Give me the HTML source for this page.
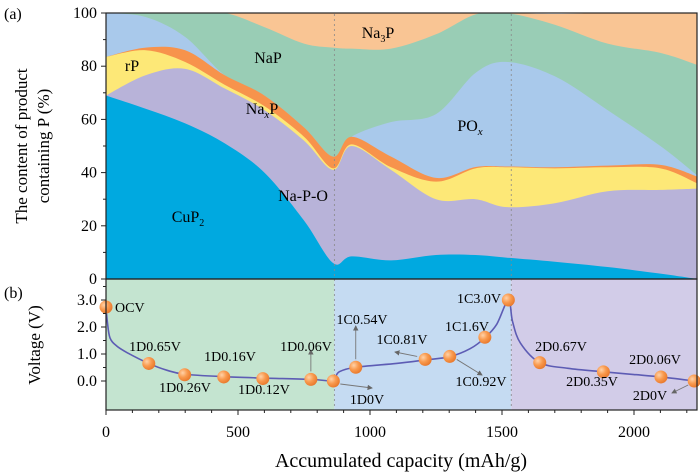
<!DOCTYPE html>
<html><head><meta charset="utf-8"><style>
html,body{margin:0;padding:0;background:#fff;}
svg{display:block;font-family:"Liberation Serif",serif;}
</style></head><body>
<svg id="chart" width="700" height="476" viewBox="0 0 700 476" xmlns="http://www.w3.org/2000/svg">
<defs>
<clipPath id="clipTop"><rect x="106" y="13" width="591" height="266"/></clipPath>
<clipPath id="clipBot"><rect x="106" y="279" width="591" height="131"/></clipPath>
<radialGradient id="dotGrad" cx="0.35" cy="0.35" r="0.7">
<stop offset="0" stop-color="#ffd2a8"/><stop offset="0.5" stop-color="#f99a4e"/><stop offset="1" stop-color="#e8772a"/>
</radialGradient>
<marker id="arr" markerWidth="6" markerHeight="6" refX="5" refY="3" orient="auto"><path d="M0,0 L6,3 L0,6 Z" fill="#666"/></marker>
</defs>
<g id="topAreas" clip-path="url(#clipTop)"></g>
<g id="botBg" clip-path="url(#clipBot)"></g>
<g id="gridLines"></g>
<g id="botLine" clip-path="url(#clipBot)"></g>
<g id="annot"></g>
<g id="dots"></g>
<g id="axes"></g>
<g id="labels"></g>
</svg>
<script>
// ---- top panel data (stack thickness, %) ----
const caps = [0,150,300,450,600,750,860,930,1080,1250,1400,1520,1700,1900,2100,2239];
const cuP2 = [69,64,58.5,51,40,22,6,8.5,7,9,9,8,6.5,4.5,2,0];
const naPO = [0,12.6,20.5,20.6,23.5,30,35,41.5,34,21,21,19,22,28.5,31.5,34];
const rP   = [14.5,9.4,2.6,1.4,1.5,1.5,0.6,0.6,1,6.6,11.6,15,13.1,9,8.1,2];
const naxP = [0,1,4.4,3.6,4,3.5,4.4,2.9,4,1.4,0.5,0.3,0.4,0.6,1.3,2.5];
const pOx  = [16.5,11.5,5,0,0,0,0,0,13,24,35.4,39.3,34.2,20.9,7.1,0.5];
const naP  = [0,1.5,9,23.4,25.7,31.5,41,33.1,27.6,30,22,18.4,19.4,25,35,41.5];
const na3P = [0,0,0,0,5.3,11.5,13,13.4,13.4,8,1,0,4,11.5,15,20];
const layerNames = ["cup2","na-p-o","rp","naxp","pox","nap","na3p"];
const layerColors = ["#00a9e0","#b8b3d9","#fde877","#f7934c","#a9c9eb","#99cdb5","#f9c594"];
// ---- bottom panel data ----
const pointCap = [0,162,298,446,594,776,861,946,1209,1302,1435,1524,1643,1884,2102,2228];
const pointV   = [2.74,0.65,0.23,0.15,0.09,0.06,0,0.51,0.80,0.91,1.62,3.0,0.68,0.34,0.15,0];
const curveCap = [0,5,15,40,80,162,230,298,446,594,776,861,870,885,946,1100,1209,1302,1380,1435,1480,1524,1540,1570,1643,1750,1884,2000,2102,2228];
const curveV   = [2.75,2.2,1.6,1.3,1.05,0.65,0.4,0.25,0.16,0.11,0.06,0,0.15,0.35,0.51,0.65,0.78,0.9,1.2,1.6,2.1,3.0,2.2,1.4,0.68,0.47,0.34,0.24,0.15,0];
const zoneStarts = [0,865,1535];
const zoneEnds = [865,1535,2239];
const zoneColors = ["#c4e4d0","#c5dbf2","#d2cce8"];
const pctTicks = [0,20,40,60,80,100];
const voltTicks = [0,1,2,3];
const capTicks = [0,500,1000,1500,2000];

const NS="http://www.w3.org/2000/svg";
const X0=106, PX=0.264;
function xs(c){return X0+c*PX;}
function ys(p){return 279-p*2.66;}
function yv(v){return 381-v*27;}
function mk(tag,attrs,parent){const e=document.createElementNS(NS,tag);for(const k in attrs)e.setAttribute(k,attrs[k]);parent.appendChild(e);return e;}
function spline(pts){
  let d="M"+pts[0][0].toFixed(2)+","+pts[0][1].toFixed(2);
  for(let i=0;i<pts.length-1;i++){
    const p0=pts[i-1]||pts[i],p1=pts[i],p2=pts[i+1],p3=pts[i+2]||p2;
    const t=6;
    const c1=[p1[0]+(p2[0]-p0[0])/t,p1[1]+(p2[1]-p0[1])/t];
    const c2=[p2[0]-(p3[0]-p1[0])/t,p2[1]-(p3[1]-p1[1])/t];
    d+=" C"+c1[0].toFixed(2)+","+c1[1].toFixed(2)+" "+c2[0].toFixed(2)+","+c2[1].toFixed(2)+" "+p2[0].toFixed(2)+","+p2[1].toFixed(2);
  }
  return d;
}
// stacked areas
const layers=[cuP2,naPO,rP,naxP,pOx,naP,na3P];
const cum=[];let run=caps.map(()=>0);
layers.forEach(L=>{run=run.map((v,i)=>v+L[i]);cum.push(run.slice());});
const gTop=document.getElementById('topAreas');
for(let li=layers.length-1;li>=0;li--){
  const pts=caps.map((c,i)=>[xs(c),ys(cum[li][i])]);
  let d=spline(pts)+" L"+xs(caps[caps.length-1]+50)+","+ys(cum[li][caps.length-1])+" L"+xs(caps[caps.length-1]+50)+",280 L"+(X0-2)+",280 L"+(X0-2)+","+ys(cum[li][0])+" Z";
  const p=mk('path',{d:d,fill:layerColors[li]},gTop);
  
  
}
// zones
const gBg=document.getElementById('botBg');
zoneStarts.forEach((s,i)=>{
  const r=mk('rect',{x:xs(s),y:279,width:xs(zoneEnds[i]+(i==2?100:0))-xs(s),height:131,fill:zoneColors[i]},gBg);
  
  
});
// dashed boundaries
const gGrid=document.getElementById('gridLines');
[zoneStarts[1],zoneStarts[2]].forEach(c=>{
  const l=mk('line',{x1:xs(c),x2:xs(c),y1:14,y2:409,stroke:"#888","stroke-width":0.8,"stroke-dasharray":"2,3"},gGrid);
  
  
});
// voltage curve
const gL=document.getElementById('botLine');
const vl=mk('path',{d:spline(curveCap.map((c,i)=>[xs(c),yv(curveV[i])])),fill:"none",stroke:"#5d5cb4","stroke-width":1.6},gL);


// annotations arrows
const gA=document.getElementById('annot');
function arrow(x1,y1,x2,y2){const a=mk('line',{x1:x1,y1:y1,x2:x2,y2:y2,stroke:"#777","stroke-width":0.9,"marker-end":"url(#arr)"},gA);

}
arrow(xs(776),yv(0.06)-8,xs(776),350);
arrow(xs(861)+7,yv(0)+3,372,388);
arrow(xs(946),yv(0.51)-8,xs(946),326);
arrow(xs(1209)-8,yv(0.80)-3,395,352);
arrow(xs(1302)+7,yv(0.91)+3,482,375);
arrow(xs(2228)-6,yv(0)+4,672,393);
// points
const gD=document.getElementById('dots');
pointCap.forEach((c,i)=>{
  const d=mk('circle',{cx:xs(c),cy:yv(pointV[i]),r:6.5,fill:"url(#dotGrad)"},gD);
  
  
});
// axes
const gAx=document.getElementById('axes');
const f1=mk('rect',{x:106,y:13,width:591,height:266,fill:"none",stroke:"#222","stroke-width":1.2},gAx);


const f2=mk('rect',{x:106,y:279,width:591,height:131,fill:"none",stroke:"#222","stroke-width":1.2},gAx);


for(let p=0;p<=100;p+=10){const big=p%20==0;mk('line',{x1:106,x2:106-(big?5:3),y1:ys(p),y2:ys(p),stroke:"#222"},gAx);}
pctTicks.forEach(p=>{const t=mk('text',{x:97,y:ys(p)+5,"text-anchor":"end","font-size":16},gAx);t.textContent=p;

});
for(let v=0;v<=3.5;v+=0.5){mk('line',{x1:106,x2:106-(v%1==0?5:3),y1:yv(v),y2:yv(v),stroke:"#222"},gAx);}
voltTicks.forEach(v=>{const t=mk('text',{x:97,y:yv(v)+5,"text-anchor":"end","font-size":16},gAx);t.textContent=v.toFixed(1);

});
for(let c=0;c<=2200;c+=100){mk('line',{x1:xs(c),x2:xs(c),y1:410,y2:410+(c%500==0?5:3),stroke:"#222"},gAx);}
capTicks.forEach(c=>{const t=mk('text',{x:xs(c),y:437,"text-anchor":"middle","font-size":16},gAx);t.textContent=c;

});

const gLab=document.getElementById('labels');
function lab(txt,x,y,size,name,anchor){const t=document.createElementNS(NS,'text');t.setAttribute('x',x);t.setAttribute('y',y);t.setAttribute('font-size',size);t.setAttribute('text-anchor',anchor||'middle');t.innerHTML=txt;gLab.appendChild(t);

return t;}
lab('Na<tspan font-size="10" dy="4">3</tspan><tspan dy="-4">P</tspan>',378,38,16,'label-na3p');
lab('NaP',268,63,16,'label-nap');
lab('rP',132,71,16,'label-rp');
lab('Na<tspan font-size="11" font-style="italic" dy="4">x</tspan><tspan dy="-4">P</tspan>',262,114,16,'label-naxp');
lab('PO<tspan font-size="11" font-style="italic" dy="4">x</tspan>',470,131,16,'label-pox');
lab('Na-P-O',303,201,16,'label-na-p-o');
lab('CuP<tspan font-size="10" dy="4">2</tspan>',188,222,16,'label-cup2');
lab('(a)',4,19,16,'panel-a-label','start');
lab('(b)',4,298,16,'panel-b-label','start');
const anns=[["OCV",115,312,"start"],["1D0.65V",155,351],["1D0.16V",230,361],["1D0.26V",185,392],["1D0.12V",264,394],["1D0.06V",306,351],["1D0V",367,404],["1C0.54V",362,324],["1C0.81V",402,344],["1C0.92V",481,386],["1C1.6V",467,331],["1C3.0V",479,303],["2D0.67V",561,351],["2D0.35V",592,386],["2D0.06V",655,364],["2D0V",650,400]];
anns.forEach(a=>lab(a[0],a[1],a[2],14,'point-label',a[3]||'middle'));
const yt=lab('',0,0,17,'y-axis-title-top');
yt.setAttribute('transform','translate(27,146) rotate(-90)');
yt.innerHTML='<tspan x="0" y="0">The content of product</tspan><tspan x="0" y="22">containing P (%)</tspan>';
const vt=lab('Voltage (V)',0,0,17,'y-axis-title-bottom');
vt.setAttribute('transform','translate(40,345) rotate(-90)');
lab('Accumulated capacity (mAh/g)',401,467,20,'x-axis-title');
</script>
</body></html>
